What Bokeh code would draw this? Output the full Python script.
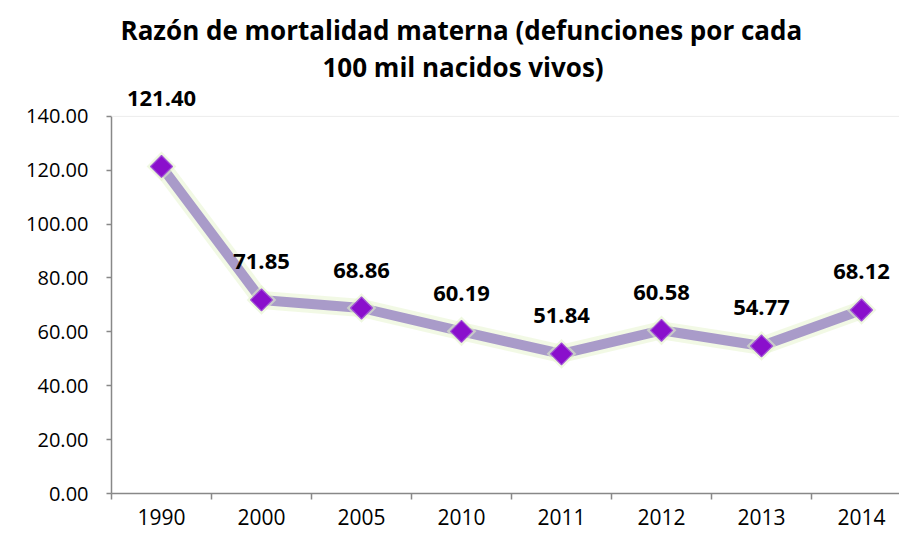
from bokeh.plotting import figure
from bokeh.models import Range1d, FixedTicker, Title, Span, ColumnDataSource
from bokeh.core.properties import value
from bokeh.embed import file_html
from bokeh.resources import INLINE

years = ["1990", "2000", "2005", "2010", "2011", "2012", "2013", "2014"]
rates = [121.40, 71.85, 68.86, 60.19, 51.84, 60.58, 54.77, 68.12]
y_ticks = [0, 20, 40, 60, 80, 100, 120, 140]

xs = list(range(len(years)))
labels = ["%.2f" % v for v in rates]
label_offsets = [-68] + [-38] * (len(rates) - 1)

src = ColumnDataSource(dict(x=xs, y=rates, lab=labels, off=label_offsets))

FONT = "Open Sans"

p = figure(width=899, height=539, output_backend="svg", toolbar_location=None,
           x_range=Range1d(-0.5, 7.38), y_range=Range1d(0, 152.2),
           min_border_left=111, min_border_right=0, min_border_bottom=46, min_border_top=83)
p.outline_line_color = None
p.xgrid.visible = False
p.ygrid.visible = False
p.background_fill_color = "white"
p.border_fill_color = "white"

# titles (first added sits closest to the plot)
p.title.visible = False
t2 = Title(text="100 mil nacidos vivos)", align="left", offset=211,
           text_font=FONT, text_font_size="26px", text_font_style="bold", text_color="#000000",
           standoff=-2)
t1 = Title(text="Razón de mortalidad materna (defunciones por cada", align="left", offset=9,
           text_font=FONT, text_font_size="26px", text_font_style="bold", text_color="#000000",
           standoff=0)
p.add_layout(t2, "above")
p.add_layout(t1, "above")

# faint top border
p.add_layout(Span(location=140, dimension="width", line_color="#ececec", line_width=1))

# glow
p.line("x", "y", source=src, line_color="#e2f2c6", line_width=18, line_alpha=0.45, line_join="round")
p.line("x", "y", source=src, line_color="#A99BC9", line_width=10, line_join="round")
p.scatter("x", "y", source=src, marker="square", angle=0.785398, size=21,
          fill_color="#e2f2c8", fill_alpha=0.55, line_color=None)
p.scatter("x", "y", source=src, marker="square", angle=0.785398, size=15.5,
          fill_color="#8A0FCC", line_color="#A050D6", line_width=1.2)

p.text("x", "y", text="lab", source=src, y_offset="off", text_align="center", text_baseline="middle",
       text_font=value(FONT), text_font_size="22px", text_font_style="bold", text_color="#000000")

# x axis
p.xaxis.ticker = FixedTicker(ticks=xs, minor_ticks=[i - 0.5 for i in range(len(years) + 1)])
p.xaxis.major_label_overrides = {i: y for i, y in enumerate(years)}
p.xaxis.major_tick_out = 0
p.xaxis.major_tick_in = 0
p.xaxis.minor_tick_out = 6
p.xaxis.minor_tick_in = 0
p.xaxis.minor_tick_line_color = "#888888"
p.xaxis.minor_tick_line_width = 1.5
p.xaxis.axis_line_color = "#888888"
p.xaxis.axis_line_width = 1.5
p.xaxis.major_label_standoff = 9
p.xaxis.major_label_text_font = FONT
p.xaxis.major_label_text_font_size = "21px"
p.xaxis.major_label_text_color = "#000000"

# y axis
p.yaxis.ticker = FixedTicker(ticks=y_ticks)
p.yaxis.bounds = (0, 140)
p.yaxis.major_label_overrides = {t: "%.2f" % t for t in y_ticks}
p.yaxis.major_tick_out = 5
p.yaxis.major_tick_in = 0
p.yaxis.minor_tick_out = 0
p.yaxis.minor_tick_in = 0
p.yaxis.major_tick_line_color = "#888888"
p.yaxis.major_tick_line_width = 1.5
p.yaxis.axis_line_color = "#888888"
p.yaxis.axis_line_width = 1.5
p.yaxis.major_label_standoff = 18
p.yaxis.major_label_text_font = FONT
p.yaxis.major_label_text_font_size = "20px"
p.yaxis.major_label_text_color = "#000000"

open("out.html", "w").write(file_html(p, INLINE))
